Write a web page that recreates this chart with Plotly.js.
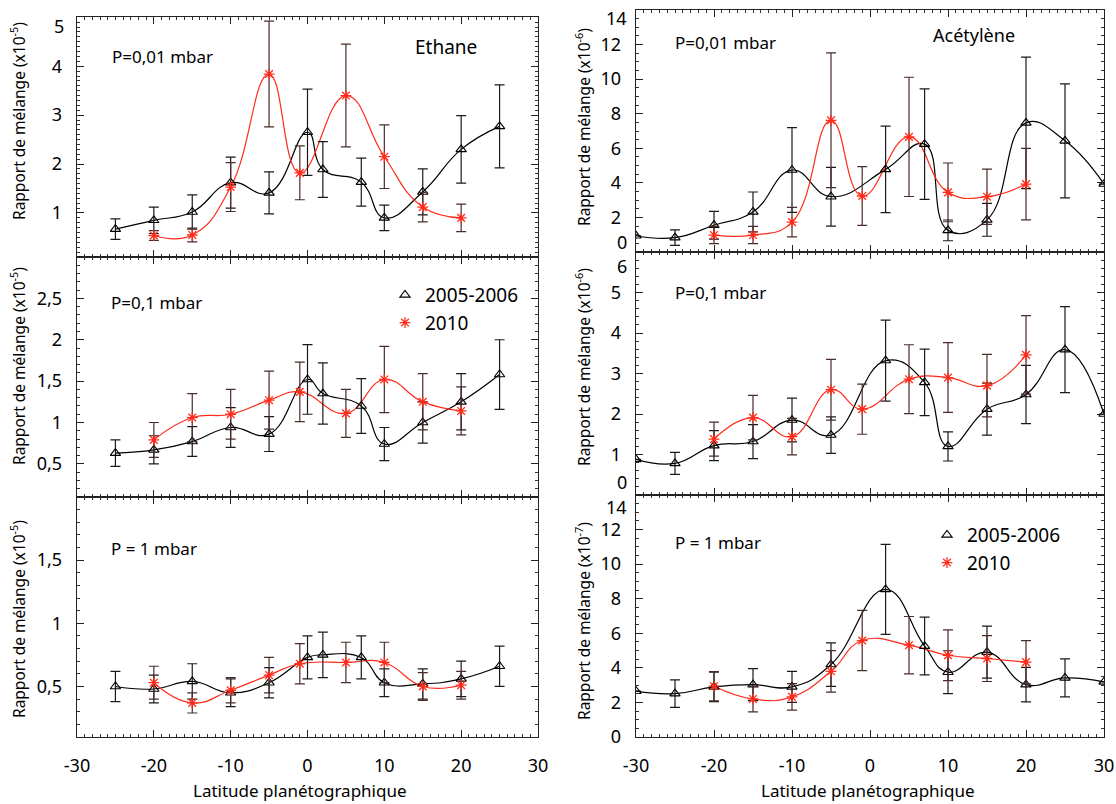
<!DOCTYPE html>
<html><head><meta charset="utf-8">
<script src="https://cdn.plot.ly/plotly-3.0.1.min.js"></script>
<style>html,body{margin:0;padding:0;background:#fff}#chart{width:1116px;height:804px}</style>
</head><body><div id="chart"></div>
<script>
// ---------- DATA ----------
const seriesNames = ["2005-2006", "2010"];

// Ethane, P = 0.01 mbar (x1e-5)
const ethane001LatA = [-25,-20,-15,-10,-5,0,2,7,10,15,20,25];
const ethane001ValA = [0.67,0.85,1.02,1.62,1.41,2.65,1.89,1.63,0.90,1.43,2.30,2.77];
const ethane001ErrA = [0.21,0.27,0.35,0.52,0.43,0.88,0.57,0.49,0.26,0.47,0.69,0.85];
const ethane001LatB = [-20,-15,-10,-5,-1,5,10,15,20];
const ethane001ValB = [0.54,0.55,1.53,3.84,1.82,3.40,2.15,1.12,0.90];
const ethane001ErrB = [0.10,0.14,0.50,1.08,0.55,1.05,0.65,0.30,0.28];

// Ethane, P = 0.1 mbar (x1e-5)
const ethane01LatA = [-25,-20,-15,-10,-5,0,2,7,10,15,20,25];
const ethane01ValA = [0.63,0.67,0.77,0.94,0.86,1.52,1.35,1.20,0.74,1.00,1.25,1.58];
const ethane01ErrA = [0.16,0.17,0.18,0.24,0.21,0.42,0.37,0.33,0.20,0.25,0.34,0.42];
const ethane01LatB = [-20,-15,-10,-5,-1,5,10,15,20];
const ethane01ValB = [0.79,1.06,1.10,1.27,1.37,1.11,1.52,1.25,1.14];
const ethane01ErrB = [0.21,0.29,0.30,0.35,0.36,0.29,0.40,0.34,0.29];

// Ethane, P = 1 mbar (x1e-5)
const ethane1LatA = [-25,-20,-15,-10,-5,0,2,7,10,15,20,25];
const ethane1ValA = [0.50,0.48,0.54,0.45,0.53,0.73,0.75,0.73,0.53,0.52,0.56,0.66];
const ethane1ErrA = [0.12,0.11,0.14,0.11,0.12,0.17,0.18,0.17,0.11,0.12,0.14,0.16];
const ethane1LatB = [-20,-15,-10,-5,-1,5,10,15,20];
const ethane1ValB = [0.53,0.37,0.47,0.59,0.68,0.69,0.69,0.50,0.51];
const ethane1ErrB = [0.13,0.08,0.10,0.14,0.16,0.16,0.16,0.11,0.11];

// Acetylene, P = 0.01 mbar (x1e-6)
const acet001LatA = [-30,-25,-20,-15,-10,-5,2,7,10,15,20,25,30];
const acet001ValA = [0.94,0.83,1.55,2.32,4.74,3.20,4.78,6.24,1.25,1.86,7.47,6.43,3.93];
const acet001ErrA = [0,0.45,0.80,1.15,2.45,1.70,2.50,3.20,0.60,0.95,3.80,3.30,0];
const acet001LatB = [-20,-15,-10,-5,-1,5,10,15,20];
const acet001ValB = [0.98,0.98,1.73,7.62,3.24,6.66,3.45,3.20,3.93];
const acet001ErrB = [0.50,0.50,0.85,3.90,1.70,3.45,1.70,1.60,2.07];

// Acetylene, P = 0.1 mbar (x1e-6)
const acet01LatA = [-30,-25,-20,-15,-10,-5,2,7,10,15,20,25,30];
const acet01ValA = [0.88,0.78,1.22,1.32,1.85,1.48,3.32,2.78,1.20,2.12,2.48,3.59,2.00];
const acet01ErrA = [0,0.27,0.37,0.42,0.54,0.45,1.00,0.82,0.36,0.64,0.72,1.06,0];
const acet01LatB = [-20,-15,-10,-5,-1,5,10,15,20];
const acet01ValB = [1.38,1.91,1.44,2.60,2.12,2.86,2.90,2.70,3.46];
const acet01ErrB = [0.42,0.55,0.45,0.75,0.62,0.85,0.86,0.77,0.97];

// Acetylene, P = 1 mbar (x1e-7)
const acet1LatA = [-30,-25,-20,-15,-10,-5,2,7,10,15,20,25,30];
const acet1ValA = [2.65,2.51,2.90,3.03,2.90,4.19,8.54,5.26,3.75,4.91,3.03,3.42,3.19];
const acet1ErrA = [0,0.80,0.85,0.93,0.90,1.26,2.60,1.67,1.24,1.50,1.00,1.10,0];
const acet1LatB = [-20,-15,-10,-5,-1,5,10,15,20];
const acet1ValB = [2.94,2.20,2.32,3.80,5.58,5.31,4.73,4.54,4.33];
const acet1ErrB = [0.85,0.75,0.77,1.20,1.74,1.66,1.47,1.33,1.25];

// Tick labels
const xTickVals = [-30,-20,-10,0,10,20,30];
const xTickText = ["-30","-20","-10","0","10","20","30"];
const yTicksE001 = [1,2,3,4,5];          const yTextE001 = ["1","2","3","4","5"];
const yTicksE01  = [0.5,1,1.5,2,2.5];    const yTextE01  = ["0,5","1","1,5","2","2,5"];
const yTicksE1   = [0.5,1,1.5];          const yTextE1   = ["0,5","1","1,5"];
const yTicksA001 = [0,2,4,6,8,10,12,14]; const yTextA001 = ["0","2","4","6","8","10","12","14"];
const yTicksA01  = [0,1,2,3,4,5,6];      const yTextA01  = ["0","1","2","3","4","5","6"];
const yTicksA1   = [0,2,4,6,8,10,12,14]; const yTextA1   = ["0","2","4","6","8","10","12","14"];

// ---------- STYLE ----------
const W = 1116, H = 804;
const FONT = "Noto Sans, Open Sans, sans-serif";
const BLACK = "#000000", RED = "#ff2a1a";
const px = v => v / W, py = v => 1 - v / H;

const traces = [];
function addPanel(n, latA, valA, errA, latB, valB, errB, legendId) {
  const xa = "x" + (n === 1 ? "" : n), ya = "y" + (n === 1 ? "" : n);
  traces.push({x: latA, y: valA, xaxis: xa, yaxis: ya, mode: "lines", hoverinfo: "skip",
    line: {color: BLACK, width: 1.2, shape: "spline", smoothing: 1.3}, showlegend: false});
  traces.push({x: latB, y: valB, xaxis: xa, yaxis: ya, mode: "lines", hoverinfo: "skip",
    line: {color: RED, width: 1.2, shape: "spline", smoothing: 1.3}, showlegend: false});
  traces.push({x: latA, y: valA, xaxis: xa, yaxis: ya, mode: "markers", name: seriesNames[0],
    legend: legendId || "legend", showlegend: !!legendId,
    marker: {symbol: "triangle-up-open", size: 9, color: BLACK, line: {color: BLACK, width: 1.1}},
    error_y: {type: "data", array: errA, visible: true, color: "#1a1a1a", thickness: 1.2, width: 5}});
  traces.push({x: latB, y: valB, xaxis: xa, yaxis: ya, mode: "markers", name: seriesNames[1],
    legend: legendId || "legend", showlegend: !!legendId,
    marker: {symbol: "asterisk-open", size: 9, color: RED, line: {color: RED, width: 1.3}},
    error_y: {type: "data", array: errB, visible: true, color: "#4a2c28", thickness: 1.2, width: 5}});
}
addPanel(1, ethane001LatA, ethane001ValA, ethane001ErrA, ethane001LatB, ethane001ValB, ethane001ErrB, null);
addPanel(2, ethane01LatA, ethane01ValA, ethane01ErrA, ethane01LatB, ethane01ValB, ethane01ErrB, "legend");
addPanel(3, ethane1LatA, ethane1ValA, ethane1ErrA, ethane1LatB, ethane1ValB, ethane1ErrB, null);
addPanel(4, acet001LatA, acet001ValA, acet001ErrA, acet001LatB, acet001ValB, acet001ErrB, null);
addPanel(5, acet01LatA, acet01ValA, acet01ErrA, acet01LatB, acet01ValB, acet01ErrB, null);
addPanel(6, acet1LatA, acet1ValA, acet1ErrA, acet1LatB, acet1ValB, acet1ErrB, "legend2");

const layout = {width: W, height: H, margin: {l: 0, r: 0, t: 0, b: 0},
  paper_bgcolor: "#fff", plot_bgcolor: "#fff", font: {family: FONT, size: 18, color: "#000"},
  showlegend: true, annotations: []};

// Tick labels sitting on a panel edge are drawn as shifted texts (as in the original figure)
const leftX = [px(77), px(538)], rightX = [px(636), px(1104)];
const panels = [
  {n: 1, xd: leftX,  yd: [py(257), py(17.3)], range: [0.1, 5], tv: yTicksE001, tt: yTextE001, minor: 0.1, lbl: false, shift: {4: 26}},
  {n: 2, xd: leftX,  yd: [py(497), py(257)],  range: [0.1, 3], tv: yTicksE01,  tt: yTextE01,  minor: 0.1, lbl: false, shift: {}},
  {n: 3, xd: leftX,  yd: [py(737), py(497)],  range: [0.1, 2], tv: yTicksE1,   tt: yTextE1,   minor: 0.1, lbl: true,  shift: {}},
  {n: 4, xd: rightX, yd: [py(252), py(10)],   range: [0, 14],  tv: yTicksA001, tt: yTextA001, minor: 0.5, lbl: false, shift: {0: 242, 7: 18}},
  {n: 5, xd: rightX, yd: [py(495), py(252)],  range: [0, 6],   tv: yTicksA01,  tt: yTextA01,  minor: 0.2, lbl: false, shift: {0: 482, 6: 266}},
  {n: 6, xd: rightX, yd: [py(737), py(495)],  range: [0, 14],  tv: yTicksA1,   tt: yTextA1,   minor: 0.5, lbl: true,  shift: {7: 507}}
];

function ann(text, x, y, size, opts) {
  layout.annotations.push(Object.assign({text, x: px(x), y: py(y), xref: "paper", yref: "paper",
    showarrow: false, xanchor: "left", yanchor: "middle", font: {size, family: FONT, color: "#000"}}, opts || {}));
}

panels.forEach(p => {
  const s = p.n === 1 ? "" : String(p.n);
  const keep = p.tv.map((v, i) => !(i in p.shift));
  Object.keys(p.shift).forEach(i => {
    const xr = p.xd[0] === leftX[0] ? 66 : 629;
    ann(p.tt[i], xr, p.shift[i], 18, {xanchor: "right"});
  });
  layout["xaxis" + s] = {domain: p.xd, anchor: "y" + s, range: [-30, 30], fixedrange: true,
    tickmode: "array", tickvals: xTickVals, ticktext: xTickText, showticklabels: p.lbl,
    ticks: "inside", ticklen: 7, tickwidth: 1, tickcolor: "#222", mirror: "ticks",
    showline: true, linecolor: "#222", linewidth: 1.3, showgrid: false, zeroline: false,
    ticklabelstandoff: 12, tickfont: {size: 18, family: FONT},
    minor: {ticks: "inside", ticklen: 3, dtick: 1, tick0: 0, tickcolor: "#333", showgrid: false}};
  layout["yaxis" + s] = {domain: p.yd, anchor: "x" + s, range: p.range, fixedrange: true,
    tickmode: "array", tickvals: p.tv.filter((v, i) => keep[i]), ticktext: p.tt.filter((t, i) => keep[i]),
    ticks: "inside", ticklen: 7, tickwidth: 1, tickcolor: "#222", mirror: "ticks",
    showline: true, linecolor: "#222", linewidth: 1.3, showgrid: false, zeroline: false,
    ticklabelstandoff: 10, tickfont: {size: 18, family: FONT},
    minor: {ticks: "inside", ticklen: 3, dtick: p.minor, tick0: 0, tickcolor: "#333", showgrid: false}};
});

// panel texts
ann("P=0,01 mbar", 110, 56, 17);
ann("Ethane", 413, 47, 19);
ann("P=0,1 mbar", 109, 302, 17);
ann("P = 1 mbar", 109, 548, 17);
ann("P=0,01 mbar", 673, 43, 17);
ann("Acétylène", 931, 35, 18);
ann("P=0,1 mbar", 673, 292, 17);
ann("P = 1 mbar", 673, 542, 17);
// axis titles
const yTitle = e => "Rapport de mélange (x10<sup>" + e + "</sup>)";
[[18, 121, "-5"], [18, 366, "-5"], [18, 619, "-5"], [583, 127, "-6"], [583, 367, "-6"], [583, 621, "-7"]]
  .forEach(([x, y, e]) => ann(yTitle(e), x, y, 15.5, {textangle: -90, xanchor: "center"}));
ann("Latitude planétographique", 300, 790, 17, {xanchor: "center"});
ann("Latitude planétographique", 868, 790, 17, {xanchor: "center"});

const legendBase = {xanchor: "left", yanchor: "top", bgcolor: "rgba(0,0,0,0)", borderwidth: 0,
  font: {size: 19, family: FONT, color: "#000"}, tracegroupgap: 0, itemwidth: 30};
layout.legend = Object.assign({x: px(385), y: py(276)}, legendBase);
layout.legend2 = Object.assign({x: px(927), y: py(516)}, legendBase);

Plotly.newPlot("chart", traces, layout, {staticPlot: true, displayModeBar: false});
</script>
</body></html>
